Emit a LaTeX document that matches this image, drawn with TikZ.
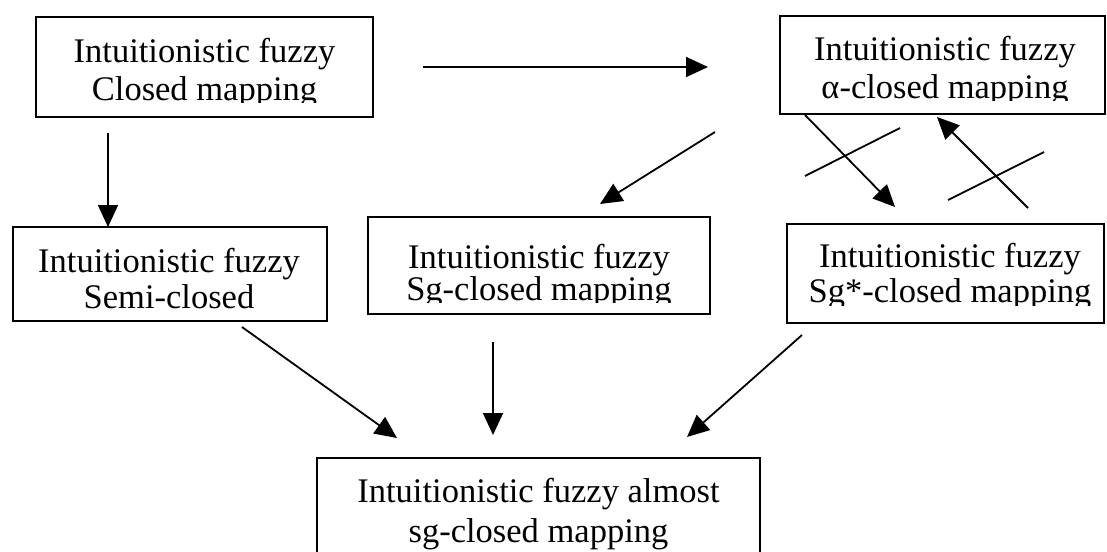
\documentclass[tikz,border=0pt]{standalone}
\usepackage{fontspec}
\setmainfont{Liberation Serif}
\usetikzlibrary{arrows.meta}
\begin{document}
\begin{tikzpicture}[x=1pt,y=-1pt,
  box/.style={draw, line width=2pt, inner sep=0pt},
  txt/.style={inner sep=0pt, anchor=base, font=\fontsize{34.5}{38}\selectfont},
  arr/.style={line width=1.8pt, -{Triangle[length=22pt,width=20pt]}},
  strike/.style={line width=1.8pt}]
\useasboundingbox (0,0) rectangle (1107,551);
\clip (0,0) rectangle (1107,551);
\fill[white] (0,0) rectangle (1107,551);
% boxes
\node[box, minimum width=337pt, minimum height=100pt] (A) at (204.5,67) {};
\node[box, minimum width=325pt, minimum height=98pt] (B) at (942.5,65) {};
\node[box, minimum width=314pt, minimum height=94pt] (C) at (170,274) {};
\node[box, minimum width=342pt, minimum height=97pt] (D) at (539,265.5) {};
\node[box, minimum width=317pt, minimum height=99pt] (E) at (945.5,273.5) {};
\node[box, minimum width=443pt, minimum height=142pt] (F) at (538.5,529) {};
% texts (clipped as in the original text boxes)
\begin{scope}
  \clip (36,17) rectangle (373,102);
  \node[txt] (A1) at (204.5,63) {Intuitionistic fuzzy};
  \node[txt] (A2) at (204.5,100) {Closed mapping};
\end{scope}
\begin{scope}
  \clip (780,16) rectangle (1105,100);
  \node[txt] (B1) at (945,60) {Intuitionistic fuzzy};
  \node[txt] (B2) at (945,98) {α-closed mapping};
\end{scope}
\begin{scope}
  \clip (13,227) rectangle (327,309);
  \node[txt] (C1) at (169,272) {Intuitionistic fuzzy};
  \node[txt] (C2) at (169,308) {Semi-closed};
\end{scope}
\begin{scope}
  \clip (368,217) rectangle (710,302);
  \node[txt] (D1) at (539,268) {Intuitionistic fuzzy};
  \node[txt] (D2) at (539,300) {Sg-closed mapping};
\end{scope}
\begin{scope}
  \clip (787,224) rectangle (1104,305);
  \node[txt] (E1) at (950,267) {Intuitionistic fuzzy};
  \node[txt] (E2) at (950,302) {Sg*-closed mapping};
\end{scope}
\node[txt] (F1) at (538.5,502) {Intuitionistic fuzzy almost};
\node[txt] (F2) at (538.5,542) {sg-closed mapping};
% connector end points
\coordinate (ab1) at (423,67);   \coordinate (ab2) at (708,67);
\coordinate (ac1) at (108,133);  \coordinate (ac2) at (108,227);
\coordinate (bd1) at (715,132);  \coordinate (bd2) at (600,204);
\coordinate (be1) at (805,115);  \coordinate (be2) at (895,207);
\coordinate (eb1) at (1028,208); \coordinate (eb2) at (937,117);
\coordinate (cf1) at (242,327);  \coordinate (cf2) at (397,438);
\coordinate (df1) at (493,342);  \coordinate (df2) at (493,435);
\coordinate (ef1) at (802,335);  \coordinate (ef2) at (687,437);
\coordinate (x1a) at (805,176);  \coordinate (x1b) at (900,128);
\coordinate (x2a) at (948,200);  \coordinate (x2b) at (1044,152);
% arrows
\draw[arr] (ab1) -- (ab2);
\draw[arr] (ac1) -- (ac2);
\draw[arr] (bd1) -- (bd2);
\draw[arr] (be1) -- (be2);
\draw[arr] (eb1) -- (eb2);
\draw[arr] (cf1) -- (cf2);
\draw[arr] (df1) -- (df2);
\draw[arr] (ef1) -- (ef2);
% strike-through marks
\draw[strike] (x1a) -- (x1b);
\draw[strike] (x2a) -- (x2b);
\end{tikzpicture}
\end{document}
